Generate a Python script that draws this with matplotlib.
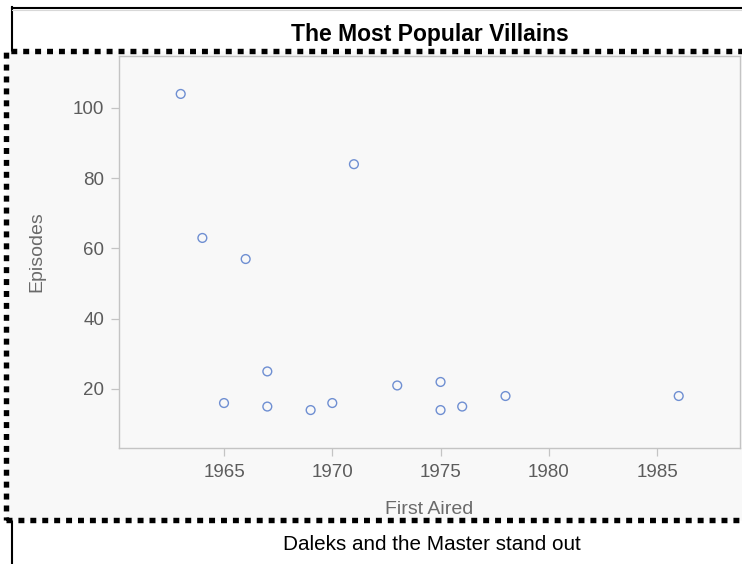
import matplotlib
matplotlib.use("Agg")
import matplotlib.pyplot as plt
from matplotlib.patches import Rectangle
from matplotlib.lines import Line2D

plt.rcParams['font.family'] = ['Liberation Sans', 'DejaVu Sans']

# Data
first_aired = [1963, 1964, 1966, 1971, 1965, 1967, 1967, 1969, 1970, 1973, 1975, 1975, 1976, 1978, 1986]
episodes = [104, 63, 57, 84, 16, 25, 15, 14, 16, 21, 22, 14, 15, 18, 18]
x_ticks = [1965, 1970, 1975, 1980, 1985]
y_ticks = [20, 40, 60, 80, 100]

title = "The Most Popular Villains"
footnote = "Daleks and the Master stand out"

W, H = 742, 564
fig = plt.figure(figsize=(W / 100, H / 100), dpi=100)
fig.patch.set_facecolor('white')

def fx(px):
    return px / W

def fy(py):
    return 1 - py / H

# Solid outer border (top and left)
fig.add_artist(Line2D([fx(11.5), fx(11.5)], [fy(7), fy(570)], color='black', lw=1.5,
                      transform=fig.transFigure, zorder=-3))
fig.add_artist(Line2D([fx(11.5), fx(750)], [fy(7.5), fy(7.5)], color='black', lw=1.5,
                      transform=fig.transFigure, zorder=-3))
fig.add_artist(Line2D([fx(12.5), fx(750)], [fy(9.5), fy(9.5)], color='#d8d8d8', lw=0.8,
                      transform=fig.transFigure, zorder=-3))

# Dotted region with light fill
rect = Rectangle((fx(6), fy(520)), fx(760) - fx(6), fy(51) - fy(520),
                 transform=fig.transFigure, facecolor='#f8f8f8', edgecolor='black',
                 lw=3.9, linestyle=(0, (1.1, 1.1)), zorder=-2)
fig.add_artist(rect)

ax = fig.add_axes([fx(119), fy(448), fx(740) - fx(119), fy(56) - fy(448)])
ax.set_facecolor('#f8f8f8')

ax.scatter(first_aired, episodes, s=40, facecolors='none', edgecolors='#6f8fd2', linewidths=1.0, zorder=3)

ax.set_xlim(1960.15, 1988.83)
ax.set_ylim(3.2, 114.8)
ax.set_xticks(x_ticks)
ax.set_yticks(y_ticks)
ax.set_xticklabels([str(v) for v in x_ticks])
ax.set_yticklabels([str(v) for v in y_ticks])

for sp in ax.spines.values():
    sp.set_color('#c4c4c4')
    sp.set_linewidth(1.0)

ax.tick_params(axis='both', colors='#c4c4c4', length=5.8, width=0.9, labelsize=13.5,
               labelcolor='#5c5c5c')
ax.tick_params(axis='x', pad=6)
ax.tick_params(axis='y', pad=5)

ax.set_xlabel('First Aired', fontsize=14, color='#6a6a6a', va='center', ha='center')
ax.xaxis.set_label_coords(0.5, (448 - 510) / 392)
ax.set_ylabel('Episodes', fontsize=14, color='#6a6a6a', va='center', ha='center')
ax.yaxis.set_label_coords((37 - 119) / 621, 0.5)

fig.text(fx(430), fy(34), title, fontsize=16.5, fontweight='bold', ha='center', va='center', color='black')
fig.text(fx(432), fy(544), footnote, fontsize=14.9, ha='center', va='center', color='black')

fig.savefig('out.png', dpi=100)
